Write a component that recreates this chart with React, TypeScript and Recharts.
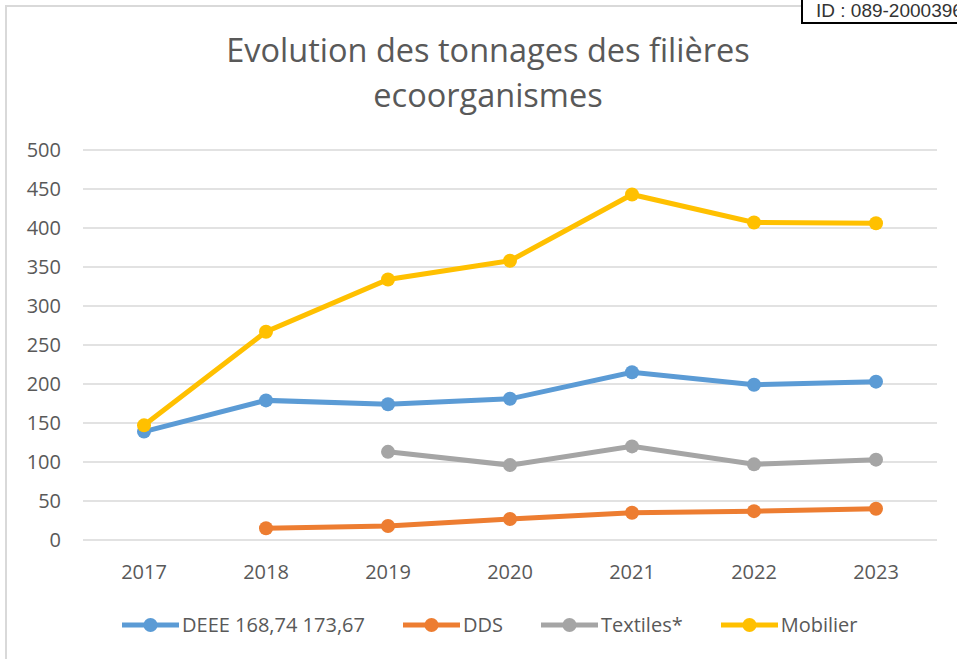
import { LineChart, Line, XAxis, YAxis, CartesianGrid } from "recharts";

const years = ["2017", "2018", "2019", "2020", "2021", "2022", "2023"];
const deee = [139, 179, 174, 181, 215, 199, 203];
const dds = [null, 15, 18, 27, 35, 37, 40];
const textiles = [null, null, 113, 96, 120, 97, 103];
const mobilier = [147, 267, 334, 358, 443, 407, 406];
const yTicks = [0, 50, 100, 150, 200, 250, 300, 350, 400, 450, 500];

const series = [
  { key: "deee", name: "DEEE 168,74 173,67", color: "#5B9BD5", values: deee },
  { key: "dds", name: "DDS", color: "#ED7D31", values: dds },
  { key: "textiles", name: "Textiles*", color: "#A5A5A5", values: textiles },
  { key: "mobilier", name: "Mobilier", color: "#FFC000", values: mobilier },
];

const data = years.map((year, i) => {
  const row: Record<string, string | number | null> = { year };
  series.forEach((s) => {
    row[s.key] = s.values[i];
  });
  return row;
});

const FONT = "'Open Sans', sans-serif";
const TEXT = "#595959";

export default function App() {
  return (
    <div
      style={{
        position: "fixed",
        left: 0,
        top: 0,
        width: 957,
        height: 659,
        overflow: "hidden",
        background: "#fff",
        fontFamily: FONT,
      }}
    >
      {/* chart frame, only left and top edges show */}
      <div
        style={{
          position: "absolute",
          left: 5,
          top: 5,
          width: 1100,
          height: 800,
          border: "2px solid #d9d9d9",
        }}
      />

      <LineChart
        width={957}
        height={659}
        data={data}
        margin={{ top: 150, right: 20, bottom: 89, left: 0 }}
        style={{ position: "absolute", left: 0, top: 0 }}
      >
        <CartesianGrid vertical={false} stroke="#d9d9d9" strokeWidth={1.3} />
        <XAxis
          dataKey="year"
          height={30}
          axisLine={false}
          tickLine={false}
          tickSize={0}
          tickMargin={25}
          padding={{ left: 61, right: 61 }}
          tick={{ fill: TEXT, fontSize: 20, fontFamily: FONT }}
        />
        <YAxis
          width={83}
          domain={[0, 500]}
          ticks={yTicks}
          axisLine={false}
          tickLine={false}
          tickSize={0}
          tickMargin={22}
          tick={{ fill: TEXT, fontSize: 20, fontFamily: FONT }}
        />
        {series.map((s) => (
          <Line
            key={s.key}
            dataKey={s.key}
            name={s.name}
            stroke={s.color}
            strokeWidth={5}
            dot={{ r: 7, fill: s.color, stroke: s.color, strokeWidth: 0 }}
            activeDot={false}
            isAnimationActive={false}
          />
        ))}
      </LineChart>

      <div
        style={{
          position: "absolute",
          left: 0,
          width: 976,
          top: 27,
          textAlign: "center",
          color: TEXT,
          fontSize: 32.5,
          lineHeight: "45px",
        }}
      >
        Evolution des tonnages des filières
        <br />
        ecoorganismes
      </div>

      <div
        style={{
          position: "absolute",
          left: 122,
          top: 610,
          display: "flex",
          alignItems: "center",
          gap: 38,
          color: TEXT,
          fontSize: 20,
        }}
      >
        {series.map((s) => (
          <div key={s.key} style={{ display: "flex", alignItems: "center" }}>
            <svg width={57} height={16}>
              <line x1={0} y1={8} x2={57} y2={8} stroke={s.color} strokeWidth={5} />
              <circle cx={28.5} cy={8} r={7} fill={s.color} />
            </svg>
            <span style={{ marginLeft: 3, lineHeight: "30px" }}>{s.name}</span>
          </div>
        ))}
      </div>

      <div
        style={{
          position: "absolute",
          left: 801,
          top: -6,
          width: 200,
          height: 30,
          border: "2px solid #000",
          background: "#fff",
          fontFamily: "'Liberation Sans', Arial, sans-serif",
          fontSize: 19,
          color: "#333",
          lineHeight: "22px",
          paddingLeft: 13,
          whiteSpace: "nowrap",
          boxSizing: "border-box",
        }}
      >
        <span style={{ position: "relative", top: 4 }}>ID : 089-2000396</span>
      </div>
    </div>
  );
}
